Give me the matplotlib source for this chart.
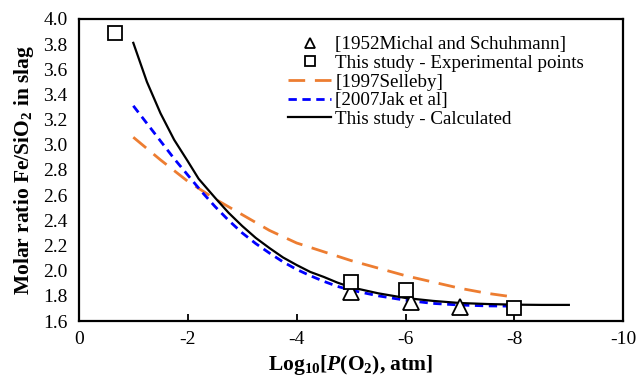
import matplotlib
matplotlib.use("Agg")
import matplotlib.pyplot as plt

plt.rcParams['font.family'] = ['Liberation Serif', 'DejaVu Serif']
plt.rcParams['mathtext.fontset'] = 'custom'
plt.rcParams['mathtext.rm'] = 'Liberation Serif:bold'
plt.rcParams['mathtext.it'] = 'Liberation Serif:italic:bold'
plt.rcParams['mathtext.bf'] = 'Liberation Serif:bold'

# experimental points
michal_x = [-5.0, -6.1, -7.0]
michal_y = [1.83, 1.753, 1.71]
exp_x = [-0.66, -5.0, -6.0, -8.0]
exp_y = [3.89, 1.91, 1.846, 1.705]

# model curves
selleby_x = [-1.0, -1.5, -2.0, -2.5, -3.0, -3.5, -4.0, -4.5, -5.0, -5.5, -6.0, -6.5, -7.0, -7.5, -8.0]
selleby_y = [3.06, 2.88, 2.71, 2.57, 2.445, 2.32, 2.22, 2.15, 2.08, 2.02, 1.96, 1.91, 1.86, 1.82, 1.79]

jak_x = [-1.0, -1.25, -1.5, -1.75, -2.0, -2.25, -2.5, -2.75, -3.0, -3.25, -3.5, -3.75, -4.0, -4.25,
         -4.5, -4.75, -5.0, -5.5, -6.0, -6.5, -7.0, -7.5, -8.0]
jak_y = [3.31, 3.17, 3.03, 2.89, 2.76, 2.63, 2.51, 2.40, 2.30, 2.215, 2.14, 2.07, 2.01, 1.96,
         1.915, 1.875, 1.845, 1.80, 1.765, 1.74, 1.727, 1.72, 1.718]

calc_x = [-1.0, -1.25, -1.5, -1.75, -2.0, -2.2, -2.5, -2.75, -3.0, -3.25, -3.5, -3.75, -4.0, -4.25,
          -4.5, -4.75, -5.0, -5.5, -6.0, -6.5, -7.0, -7.5, -8.0, -8.5, -9.0]
calc_y = [3.81, 3.50, 3.25, 3.04, 2.87, 2.73, 2.58, 2.46, 2.355, 2.26, 2.18, 2.105, 2.045, 1.99,
          1.95, 1.905, 1.868, 1.82, 1.783, 1.76, 1.743, 1.735, 1.73, 1.728, 1.728]

fig = plt.figure(figsize=(6.36, 3.79), dpi=100)
ax = fig.add_axes([0.124, 0.153, 0.856, 0.797])

ax.plot(selleby_x, selleby_y, color='#ED7D31', lw=2, dashes=(6, 3.5), label='[1997Selleby]', zorder=2)
ax.plot(jak_x, jak_y, color='#0000FF', lw=2, dashes=(3, 2), label='[2007Jak et al]', zorder=2)
ax.plot(calc_x, calc_y, color='black', lw=1.6, label='This study - Calculated', zorder=3)
ax.plot(michal_x, michal_y, ls='none', marker='^', ms=11, mfc='white', mec='black', mew=1.3,
        label='[1952Michal and Schuhmann]', zorder=4)
ax.plot(exp_x, exp_y, ls='none', marker='s', ms=10, mfc='white', mec='black', mew=1.3,
        label='This study - Experimental points', zorder=5)

ax.set_xlim(0, -10)
ax.set_ylim(1.6, 4.0)
ax.set_xticks([0, -2, -4, -6, -8, -10])
ax.set_xticklabels(['0', '-2', '-4', '-6', '-8', '-10'])
ax.set_yticks([1.6 + 0.2 * i for i in range(13)])
ax.set_yticklabels([f'{1.6 + 0.2 * i:.1f}' for i in range(13)])
ax.tick_params(axis='x', direction='in', length=5, width=1.3, labelsize=14, pad=7)
ax.tick_params(axis='y', length=0, labelsize=14, pad=8)
for s in ax.spines.values():
    s.set_linewidth(1.6)

ax.set_xlabel(r'Log$_{10}$[$\mathit{P}$(O$_2$), atm]', fontsize=15.5, fontweight='bold', labelpad=4)
ax.set_ylabel(r'Molar ratio Fe/SiO$_2$ in slag', fontsize=15.5, fontweight='bold', labelpad=5)

h, l = ax.get_legend_handles_labels()
order = [3, 4, 0, 1, 2]
ax.legend([h[i] for i in order], [l[i] for i in order], loc='upper left',
          bbox_to_anchor=(0.3675, 0.975), frameon=False, fontsize=13.7, markerscale=0.65,
          handlelength=2.26, handletextpad=0.2, labelspacing=0.07, borderpad=0)

fig.savefig('out.png', dpi=100)
